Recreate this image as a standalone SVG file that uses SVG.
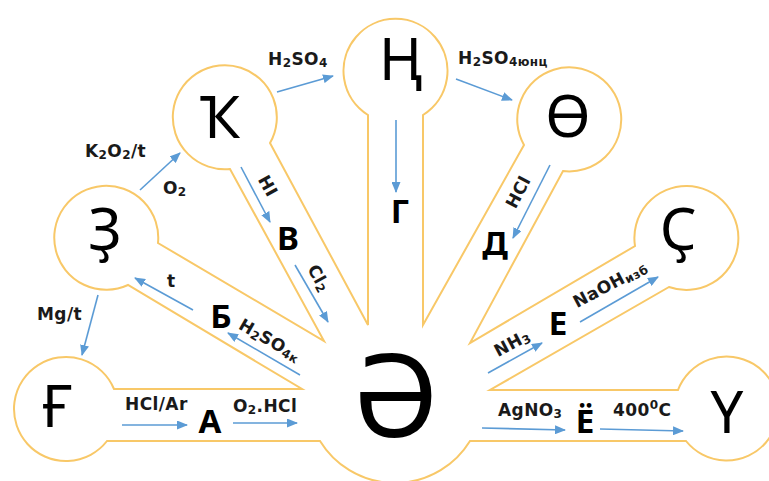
<svg xmlns="http://www.w3.org/2000/svg" width="769" height="481" viewBox="0 0 769 481">
<defs>
<style>
.outline{fill:none;stroke:#F8C868;stroke-width:2;stroke-linejoin:miter}
.big{font-family:"Noto Sans","DejaVu Sans",sans-serif;font-size:58px;fill:#000;text-anchor:middle}
.mid{font-family:"Noto Sans","DejaVu Sans",sans-serif;font-size:33px;font-weight:bold;fill:#000;text-anchor:middle}
.lbl{font-family:"DejaVu Sans","Noto Sans",sans-serif;font-size:17px;font-weight:bold;fill:#1a1a1a;letter-spacing:0.4px}
.s{font-size:12px}
.arr{stroke:#5B9BD5;stroke-width:1.6;fill:none;marker-end:url(#ah)}
</style>
<marker id="ah" markerUnits="userSpaceOnUse" markerWidth="11" markerHeight="9" refX="10" refY="4.5" orient="auto">
<path d="M0,0 L11,4.5 L0,9 z" fill="#5B9BD5"/>
</marker>
</defs>
<rect width="769" height="481" fill="#fff"/>
<g id="shape">
<path class="outline" d="M107,441 A52,52 0 1 1 114,389 L302,389 L128,285 A52,52 0 1 1 158,243 L324,341 L230,169 A52,52 0 1 1 270,143 L368,325 L368,115 A52,52 0 1 1 423,115 L423,325 L524,145 A52,52 0 1 1 563,171 L470,343 L635,246 A52,52 0 1 1 669,287 L490,390 L678,390 A52,52 0 1 1 686,441 L470,441 A88,88 0 0 1 320,441 Z"/>
</g>
<g id="node-schwa"><text class="big" x="396" y="437" style="font-size:115px">Ә</text></g>
<g id="node-gh"><text class="big" x="57" y="427">Ғ</text></g>
<g id="node-dh"><text class="big" x="105" y="250">Ҙ</text></g>
<g id="node-qa"><text class="big" x="220" y="138">Ҡ</text></g>
<g id="node-ng"><text class="big" x="401" y="80">Ң</text></g>
<g id="node-oe"><text class="big" x="568" y="137">Ө</text></g>
<g id="node-th"><text class="big" x="678" y="250">Ҫ</text></g>
<g id="node-ue"><text class="big" x="727" y="433">Ү</text></g>
<g id="node-A"><text class="mid" x="210" y="433">А</text></g>
<g id="node-B1"><text class="mid" x="221" y="328">Б</text></g>
<g id="node-V"><text class="mid" x="288" y="250">В</text></g>
<g id="node-G"><text class="mid" x="400" y="223">Г</text></g>
<g id="node-D"><text class="mid" x="495" y="255">Д</text></g>
<g id="node-E"><text class="mid" x="558" y="335">Е</text></g>
<g id="node-YO"><text class="mid" x="585" y="433">Ё</text></g>
<g id="connectors">
<line class="arr" x1="140" y1="190" x2="180" y2="153"/>
<line class="arr" x1="277" y1="92" x2="333" y2="76"/>
<line class="arr" x1="456" y1="79" x2="512" y2="100"/>
<line class="arr" x1="396" y1="120" x2="396" y2="192"/>
<line class="arr" x1="241" y1="167" x2="270" y2="222"/>
<line class="arr" x1="295" y1="265" x2="328" y2="322"/>
<line class="arr" x1="550" y1="165" x2="513" y2="238"/>
<line class="arr" x1="300" y1="375" x2="228" y2="333"/>
<line class="arr" x1="193" y1="310" x2="135" y2="278"/>
<line class="arr" x1="98" y1="295" x2="82" y2="355"/>
<line class="arr" x1="122" y1="425" x2="187" y2="425"/>
<line class="arr" x1="233" y1="423" x2="297" y2="423"/>
<line class="arr" x1="488" y1="373" x2="542" y2="343"/>
<line class="arr" x1="580" y1="322" x2="658" y2="277"/>
<line class="arr" x1="482" y1="428" x2="565" y2="430"/>
<line class="arr" x1="600" y1="429" x2="683" y2="431"/>
<text class="lbl" x="85" y="157">K<tspan class="s" dy="2">2</tspan><tspan dy="-2">O</tspan><tspan class="s" dy="2">2</tspan><tspan dy="-2">/t</tspan></text>
<text class="lbl" x="163" y="194">O<tspan class="s" dy="2">2</tspan></text>
<text class="lbl" x="268" y="65">H<tspan class="s" dy="2">2</tspan><tspan dy="-2">SO</tspan><tspan class="s" dy="2">4</tspan></text>
<text class="lbl" x="458" y="64">H<tspan class="s" dy="2">2</tspan><tspan dy="-2">SO</tspan><tspan class="s" dy="2">4юнц</tspan></text>
<text class="lbl" text-anchor="middle" y="6" transform="translate(268,186) rotate(61)">HI</text>
<text class="lbl" text-anchor="middle" y="6" transform="translate(319,278) rotate(61)">Cl<tspan class="s" dy="2">2</tspan></text>
<text class="lbl" text-anchor="middle" y="6" transform="translate(518,192) rotate(-62)">HCl</text>
<text class="lbl" text-anchor="middle" y="6" transform="translate(270,340) rotate(30)">H<tspan class="s" dy="2">2</tspan><tspan dy="-2">SO</tspan><tspan class="s" dy="2">4к</tspan></text>
<text class="lbl" x="167" y="287">t</text>
<text class="lbl" x="37" y="320">Mg/t</text>
<text class="lbl" x="125" y="410">HCl/Ar</text>
<text class="lbl" x="233" y="412">O<tspan class="s" dy="2">2</tspan><tspan dy="-2">.HCl</tspan></text>
<text class="lbl" text-anchor="middle" y="6" transform="translate(512,343) rotate(-28)">NH<tspan class="s" dy="2">3</tspan></text>
<text class="lbl" text-anchor="middle" y="6" transform="translate(610,284) rotate(-28)">NaOH<tspan class="s" dy="2">изб</tspan></text>
<text class="lbl" x="498" y="416">AgNO<tspan class="s" dy="2">3</tspan></text>
<text class="lbl" x="613" y="416">400<tspan class="s" dy="-7">0</tspan><tspan dy="7">C</tspan></text>
</g>
</svg>
